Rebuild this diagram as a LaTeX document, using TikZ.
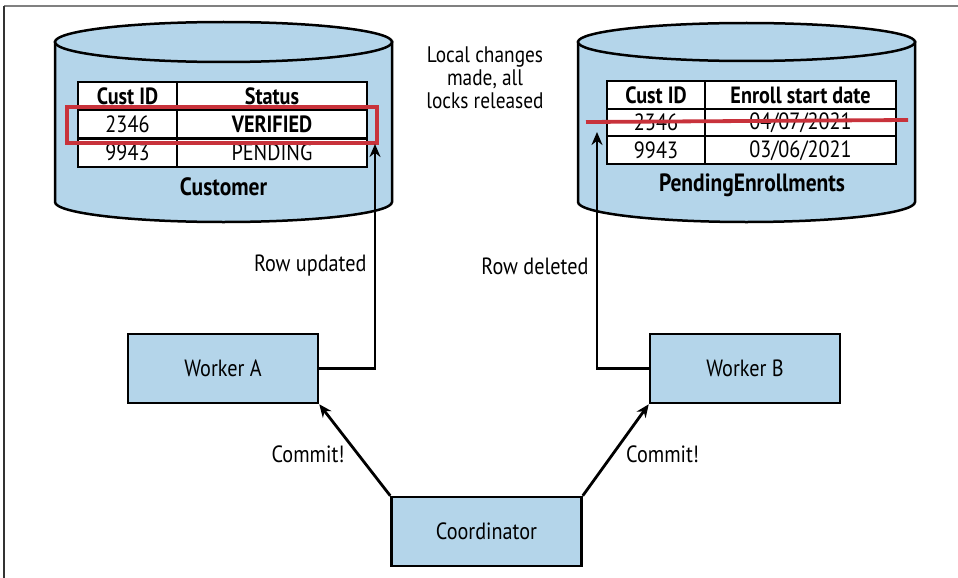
\documentclass[tikz,border=0pt]{standalone}
\usepackage{fontspec}
\setmainfont{PT Sans}[FakeStretch=0.86]
\usepackage{tikz}
\usetikzlibrary{arrows.meta}
\usetikzlibrary{positioning}
\definecolor{dbblue}{HTML}{B4D5EA}
\definecolor{markred}{HTML}{C8323B}

\begin{document}
\begin{tikzpicture}[x=1pt,y=-1pt,font=\fontsize{23.5}{27}\selectfont]
	 \tikzstyle{box}=[draw,line width=2.5pt,fill=dbblue,minimum width=190pt,minimum height=69pt,inner sep=0pt]
	 \tikzstyle{cell}=[draw,line width=2pt,fill=white,minimum height=28pt,inner sep=0pt]
	 \tikzstyle{db}=[draw,line width=2.5pt,fill=dbblue]
	 \tikzstyle{link}=[draw,line width=2.8pt,black,-{Stealth[length=13pt,width=11pt]}]
	 \tikzstyle{redmark}=[draw,line width=3.8pt,markred]
	 \useasboundingbox (0,0) rectangle (958,578);
	 % frame
	 \draw[line width=2pt,gray] (4,6) -- (958,6);
	 \draw[line width=2pt,black!80] (4,6) -- (4,578);

	 % Customer database
	 \filldraw[db] (55,42) -- (55,202) arc[start angle=180,end angle=360,x radius=168.5pt,y radius=20pt] -- (392,42) -- cycle;
	 \filldraw[db] (223.5,42) ellipse [x radius=168.5pt,y radius=20pt];
	 \node[font=\fontsize{25}{28}\bfseries] (cust) at (223.5,187) {Customer};
	 \node[cell,minimum width=99pt] (c0a) at (127.5,96) {\bfseries Cust ID};
	 \node[cell,minimum width=190pt] (c0b) at (272,96) {\bfseries Status};
	 \node[cell,minimum width=99pt] (c1a) at (127.5,124) {2346};
	 \node[cell,minimum width=190pt] (c1b) at (272,124) {\bfseries VERIFIED};
	 \node[cell,minimum width=99pt] (c2a) at (127.5,152.5) {9943};
	 \node[cell,minimum width=190pt] (c2b) at (272,152.5) {PENDING};
	 \node[redmark,minimum width=310pt,minimum height=36pt] (upd) at (222,125) {};
	 \coordinate (updtip) at (375,144);

	 % PendingEnrollments database
	 \filldraw[db] (578,42) -- (578,202) arc[start angle=180,end angle=360,x radius=168.5pt,y radius=20pt] -- (915,42) -- cycle;
	 \filldraw[db] (746.5,42) ellipse [x radius=168.5pt,y radius=19pt];
	 \node[font=\fontsize{25}{28}\bfseries] (pend) at (752,185) {PendingEnrollments};
	 \node[cell,minimum width=98pt] (p0a) at (656,95) {\bfseries Cust ID};
	 \node[cell,minimum width=191pt] (p0b) at (800.5,95) {\bfseries Enroll start date};
	 \node[cell,minimum width=98pt] (p1a) at (656,122.7) {2346};
	 \node[cell,minimum width=191pt] (p1b) at (800.5,122.7) {04/07/2021};
	 \node[cell,minimum width=98pt] (p2a) at (656,150.3) {9943};
	 \node[cell,minimum width=191pt] (p2b) at (800.5,150.3) {03/06/2021};
	 \draw[redmark] (586,122) -- (908,120);
	 \coordinate (deltip) at (597,132);

	 \node[align=center,font=\fontsize{22.5}{23}\selectfont] (note) at (485,78) {Local changes\\made, all\\locks released};

	 % workers and coordinator
	 \node[box] (wa) at (223,368.5) {Worker A};
	 \node[box] (wb) at (745,368.5) {Worker B};
	 \node[box] (coord) at (486.5,531.5) {Coordinator};

	 \draw[link] (wa.east) -| (updtip);
	 \node[anchor=east] (lblupd) at (370,266) {Row updated};
	 \draw[link] (wb.west) -| (deltip);
	 \node[anchor=east] (lbldel) at (592,266) {Row deleted};

	 \draw[link] (coord.north west) -- (wa.south east) node[pos=0.45,anchor=east,xshift=-9pt] {Commit!};
	 \draw[link] (coord.north east) -- (wb.south west) node[pos=0.45,anchor=west,xshift=9pt] {Commit!};
 \end{tikzpicture}
\end{document}
